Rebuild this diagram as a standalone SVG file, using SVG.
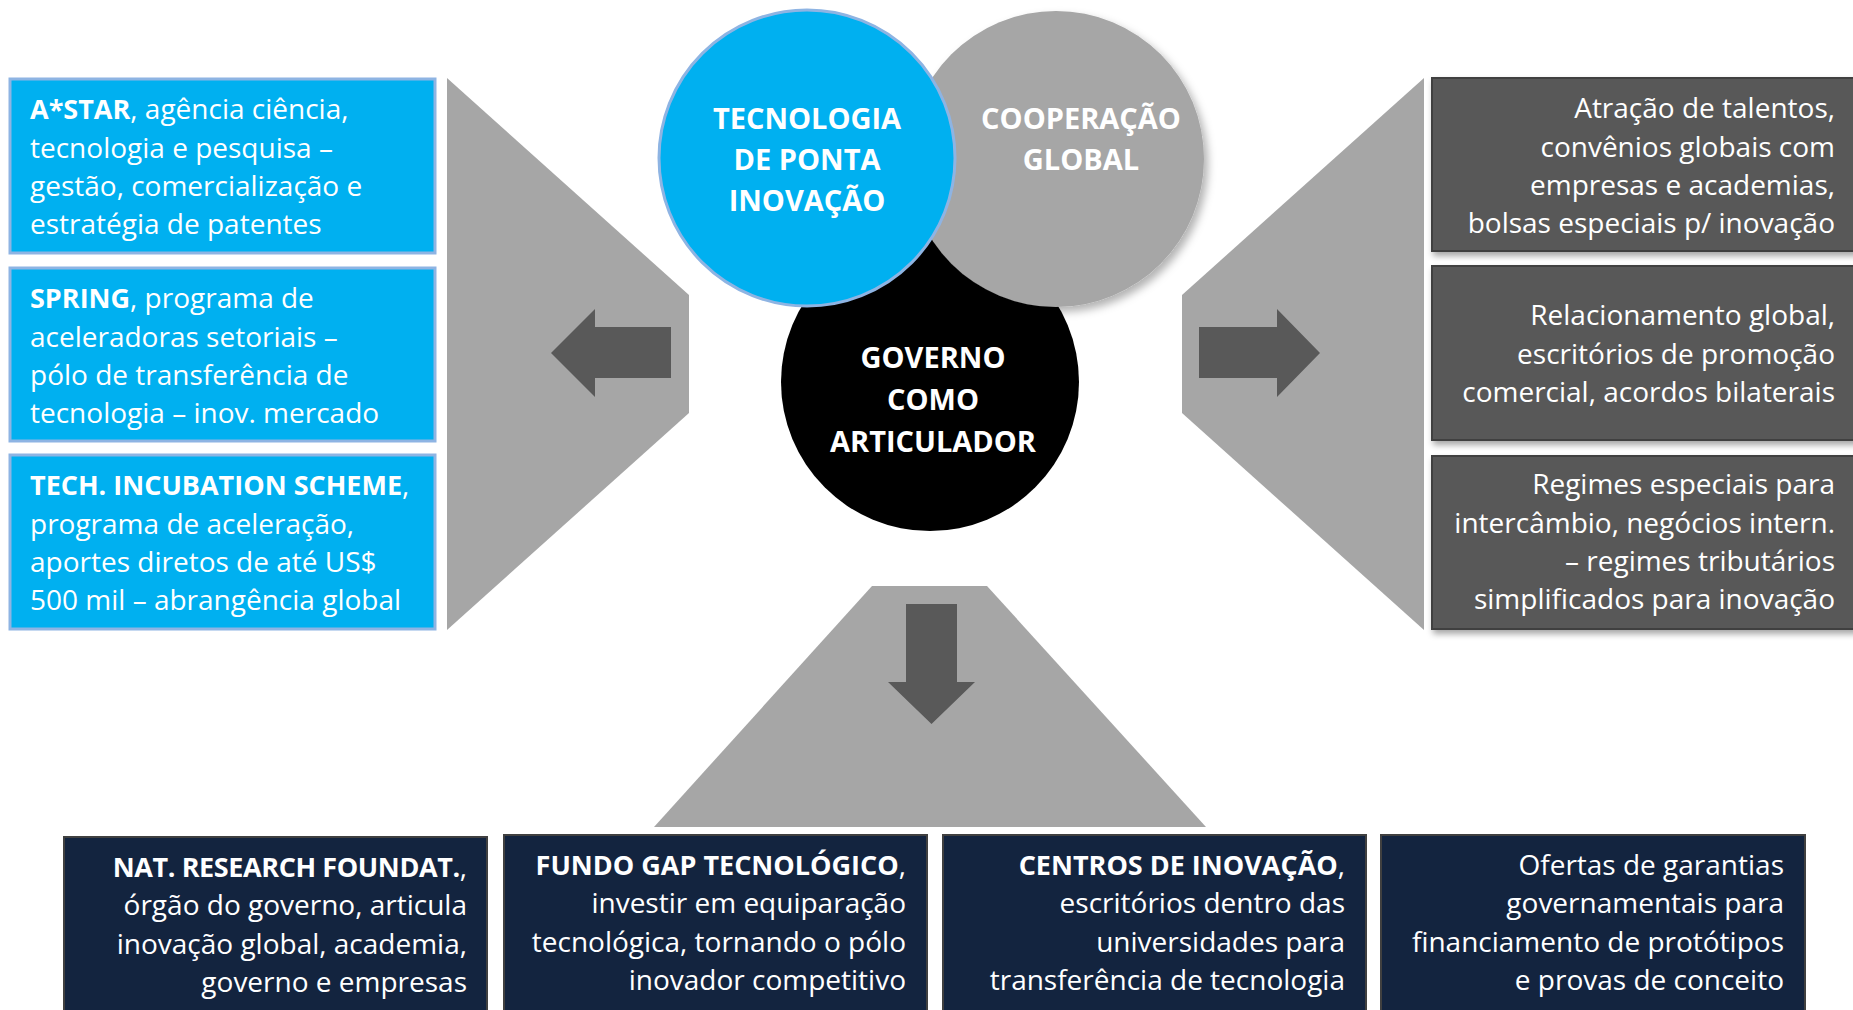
<svg xmlns="http://www.w3.org/2000/svg" width="1853" height="1010" viewBox="0 0 1853 1010">
<defs>
<filter id="sh" x="-10%" y="-10%" width="130%" height="130%">
<feDropShadow dx="2" dy="4" stdDeviation="3" flood-color="#000" flood-opacity="0.35"/>
</filter>
<filter id="shc" x="-10%" y="-10%" width="130%" height="130%">
<feDropShadow dx="4" dy="5" stdDeviation="4" flood-color="#000" flood-opacity="0.3"/>
</filter>
<style>
.t{font-family:"Open Sans","Liberation Sans",sans-serif;font-size:28px;fill:#fff}
.b{font-weight:bold;font-size:27px}
.c{font-family:"Open Sans","Liberation Sans",sans-serif;font-size:29px;font-weight:bold;fill:#fff;text-anchor:middle}
.e{text-anchor:end}
.blue{fill:#00B0F0;stroke:#8EB4E3;stroke-width:3}
.dark{fill:#595959;stroke:#3F3F3F;stroke-width:2}
.navy{fill:#13243F;stroke:#404040;stroke-width:2}
.funnel{fill:#A6A6A6}
.arrow{fill:#595959}
</style>
</defs>
<rect width="1853" height="1010" fill="#fff"/>

<g id="connectors">
<polygon class="funnel" points="447,78 689,295 689,413 447,630"/>
<polygon class="funnel" points="1424,78 1182,295 1182,413 1424,630"/>
<polygon class="funnel" points="872,586 987,586 1206,827 654,827"/>
<polygon class="arrow" points="551,353 595,309 595,327 671,327 671,378 595,378 595,397"/>
<polygon class="arrow" points="1320,353 1277,309 1277,327 1199,327 1199,378 1277,378 1277,397"/>
<polygon class="arrow" points="906,604 957,604 957,682 975,682 931.5,724 888,682 906,682"/>
</g>

<g id="circle-governo">
<circle cx="930" cy="382" r="149" fill="#000"/>
<text class="c"><tspan x="933" y="368">GOVERNO</tspan><tspan x="933" y="410">COMO</tspan><tspan x="933" y="452">ARTICULADOR</tspan></text>
</g>
<g id="circle-cooperacao">
<circle cx="1056" cy="159" r="148" fill="#A6A6A6" filter="url(#shc)"/>
<text class="c"><tspan x="1081" y="129">COOPERAÇÃO</tspan><tspan x="1081" y="170">GLOBAL</tspan></text>
</g>
<g id="circle-tecnologia">
<circle cx="807" cy="158" r="148" class="blue"/>
<text class="c"><tspan x="807" y="129">TECNOLOGIA</tspan><tspan x="807" y="170">DE PONTA</tspan><tspan x="807" y="211">INOVAÇÃO</tspan></text>
</g>

<g id="left-astar">
<rect x="10" y="79" width="425" height="174" class="blue"/>
<text class="t"><tspan x="30" y="119"><tspan class="b">A*STAR</tspan>, agência ciência,</tspan><tspan x="30" y="157.5">tecnologia e pesquisa –</tspan><tspan x="30" y="196">gestão, comercialização e</tspan><tspan x="30" y="234">estratégia de patentes</tspan></text>
</g>
<g id="left-spring">
<rect x="10" y="268" width="425" height="173" class="blue"/>
<text class="t"><tspan x="30" y="308"><tspan class="b">SPRING</tspan>, programa de</tspan><tspan x="30" y="346.5">aceleradoras setoriais –</tspan><tspan x="30" y="385">pólo de transferência de</tspan><tspan x="30" y="423">tecnologia – inov. mercado</tspan></text>
</g>
<g id="left-tis">
<rect x="10" y="455" width="425" height="174" class="blue"/>
<text class="t"><tspan x="30" y="495"><tspan class="b">TECH. INCUBATION SCHEME</tspan>,</tspan><tspan x="30" y="533.5">programa de aceleração,</tspan><tspan x="30" y="572">aportes diretos de até US$</tspan><tspan x="30" y="610">500 mil – abrangência global</tspan></text>
</g>

<g id="right-talentos">
<rect x="1432" y="78" width="430" height="173" class="dark" filter="url(#sh)"/>
<text class="t e"><tspan x="1835" y="118">Atração de talentos,</tspan><tspan x="1835" y="156.5">convênios globais com</tspan><tspan x="1835" y="195">empresas e academias,</tspan><tspan x="1835" y="233">bolsas especiais p/ inovação</tspan></text>
</g>
<g id="right-relacionamento">
<rect x="1432" y="266" width="430" height="174" class="dark" filter="url(#sh)"/>
<text class="t e"><tspan x="1835" y="325">Relacionamento global,</tspan><tspan x="1835" y="363.5">escritórios de promoção</tspan><tspan x="1835" y="402">comercial, acordos bilaterais</tspan></text>
</g>
<g id="right-regimes">
<rect x="1432" y="456" width="430" height="173" class="dark" filter="url(#sh)"/>
<text class="t e"><tspan x="1835" y="494">Regimes especiais para</tspan><tspan x="1835" y="532.5">intercâmbio, negócios intern.</tspan><tspan x="1835" y="571">– regimes tributários</tspan><tspan x="1835" y="609">simplificados para inovação</tspan></text>
</g>

<g id="bottom-nrf">
<rect x="64" y="837" width="423" height="180" class="navy"/>
<text class="t e"><tspan x="467" y="876.5"><tspan class="b" letter-spacing="-0.4">NAT. RESEARCH FOUNDAT.</tspan>,</tspan><tspan x="467" y="915">órgão do governo, articula</tspan><tspan x="467" y="953.5">inovação global, academia,</tspan><tspan x="467" y="992">governo e empresas</tspan></text>
</g>
<g id="bottom-fundo">
<rect x="504" y="835" width="423" height="182" class="navy"/>
<text class="t e"><tspan x="906" y="874.5"><tspan class="b">FUNDO GAP TECNOLÓGICO</tspan>,</tspan><tspan x="906" y="913">investir em equiparação</tspan><tspan x="906" y="951.5">tecnológica, tornando o pólo</tspan><tspan x="906" y="990">inovador competitivo</tspan></text>
</g>
<g id="bottom-centros">
<rect x="943" y="835" width="423" height="182" class="navy"/>
<text class="t e"><tspan x="1345" y="874.5"><tspan class="b">CENTROS DE INOVAÇÃO</tspan>,</tspan><tspan x="1345" y="913">escritórios dentro das</tspan><tspan x="1345" y="951.5">universidades para</tspan><tspan x="1345" y="990">transferência de tecnologia</tspan></text>
</g>
<g id="bottom-ofertas">
<rect x="1381" y="835" width="424" height="182" class="navy"/>
<text class="t e"><tspan x="1784" y="874.5">Ofertas de garantias</tspan><tspan x="1784" y="913">governamentais para</tspan><tspan x="1784" y="951.5">financiamento de protótipos</tspan><tspan x="1784" y="990">e provas de conceito</tspan></text>
</g>
</svg>
